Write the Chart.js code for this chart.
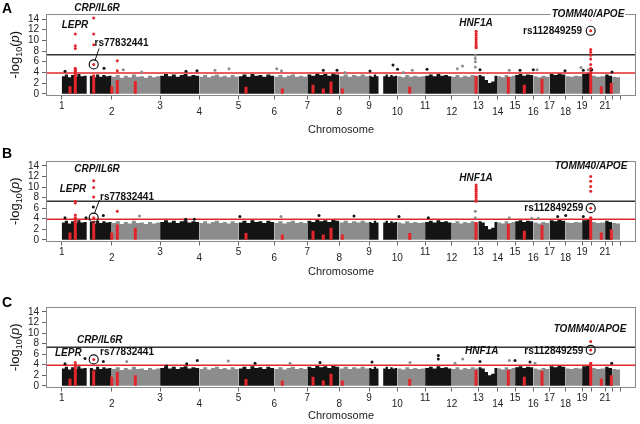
<!DOCTYPE html>
<html><head><meta charset="utf-8">
<script src="https://cdn.jsdelivr.net/npm/chart.js"></script>
<style>
html,body{margin:0;padding:0;background:#fff;width:640px;height:424px;overflow:hidden}
canvas{position:absolute;left:0}
</style></head><body>
<canvas id="pA" style="top:0px" width="640" height="147"></canvas>
<canvas id="pB" style="top:147px" width="640" height="146"></canvas>
<canvas id="pC" style="top:293px" width="640" height="131"></canvas>
<script>
// ---------------- DATA ----------------
// chromosome start positions along the genome axis (approx. Mb, cumulative)
const chromosomes = ['1','2','3','4','5','6','7','8','9','10','11','12','13','14','15','16','17','18','19','20','21','22'];
const chrStart = [0,250,492,688,884,1063,1228,1388,1537,1678,1817,1950,2083,2180,2267,2358,2439,2519,2602,2647,2717,2752];
const genomeEnd = 2792;
const xTickValues = chrStart.concat([genomeEnd]);
const xTickLabels = ['1','2','3','4','5','6','7','8','9','10','11','12','13','14','15','16','17','18','19','','21','',''];
const yTicks = [0,2,4,6,8,10,12,14];
const genomeWideLine = 7.3;
const suggestiveLine = 3.9;

// upper envelope (-log10 p) of the dense cloud of SNPs, sampled evenly along each chromosome
const massTop = [
  [3.3,3.6,3.1,3.5,3.2,3.7,3.3,3.4,0,3.4,3.1,3.6,3.2,3.5,3.3,3.4],
  [3.2,3.5,3.0,3.4,3.1,3.6,3.2,3.3,3.0,3.4,3.1,3.3],
  [3.4,3.7,3.3,3.6,3.2,3.5,3.7,3.3,3.5,3.4],
  [3.2,3.5,3.1,3.4,3.6,3.2,3.4,3.1,3.5,3.2],
  [3.3,3.6,3.2,3.7,3.4,3.5,3.2,3.6,3.4],
  [3.2,3.5,3.1,3.4,3.6,3.2,3.4,3.2],
  [3.6,3.4,3.8,3.5,3.7,3.4,3.8,3.6],
  [3.3,3.6,3.2,3.5,3.3,3.6,3.3],
  [3.4,3.2,3.6,3.3,0,0,3.3,3.6,3.2,3.5,3.3,3.4],
  [3.3,3.1,3.5,3.2,3.4,3.2,3.3],
  [3.4,3.6,3.3,3.7,3.4,3.5,3.3],
  [3.2,3.5,3.1,3.4,3.2,3.5,3.3],
  [3.5,3.3,2.6,2.0,2.3,3.4],
  [3.3,3.1,3.5,3.2,3.4],
  [3.5,3.7,3.4,3.6,3.5],
  [3.3,3.1,3.4,3.2],
  [3.7,3.5,3.8,3.6],
  [3.3,3.2,3.4,3.3],
  [3.7,3.9],
  [3.4,3.2,3.3],
  [3.6,3.4],
  [3.2,3.1]
];

// red (locus) SNP columns inside the cloud: position and top value per panel
const streakPos  = [41.5,68,160,250,278,368,921.5,1103,1256.5,1308,1346.5,1403,1740,2071.5,2233,2313,2401.5,2645,2698,2748];
const streakTopA = [1.4,4.6,3.6,1.4,2.6,2.4,1.3,1.0,1.7,1.0,2.3,1.0,1.3,3.4,3.2,1.7,2.8,4.6,1.4,2.0];
const streakTopB = [1.4,4.4,3.6,1.4,2.9,2.3,1.3,1.0,1.7,1.0,2.3,1.0,1.3,3.4,3.0,1.7,2.8,4.4,1.4,2.0];
const streakTopC = [1.4,4.2,2.9,1.7,2.6,2.0,1.3,1.0,1.7,1.0,2.3,1.0,1.3,3.0,3.0,1.7,2.8,4.5,1.4,2.0];

// individual SNPs above the cloud: [position, -log10 p]
const redA = [[68,11.2],[68,9.0],[68,8.5],[68,4.8],[68,4.4],
  [160,14.2],[160,11.2],[160,9.2],[160,5.5],[278,6.2],[278,4.3],
  [2072,11.7],[2072,11.3],[2072,10.9],[2072,10.5],[2072,10.1],[2072,9.7],[2072,9.3],[2072,8.9],[2072,8.6],
  [2645,14.0],[2645,11.8],[2645,8.3],[2645,7.8],[2645,7.2],[2645,6.5],[2645,5.5],[2645,4.8]];
const blackA = [[16.5,4.2],[211.5,4.8],[621.5,4.2],[676.5,4.3],[1308,4.4],[1376.5,4.4],[1541.5,4.25],[1656.5,5.4],
  [1679,4.6],[1826.5,4.6],[2091.5,4.5],[2291.5,4.4],[2358,4.5],[2516.5,4.3],[2608,4.4],[2650,4.5],[2751.5,4.1]];
const greyA = [[308,4.5],[400,4.1],[766.5,4.4],[836.5,4.7],[1075,4.7],[1099,4.3],[1416.5,4.0],[1708,4.0],[1753,4.4],
  [1978,4.7],[2004,5.2],[2068,7.2],[2068,6.6],[2068,6.0],[2068,5.0],[2238,4.4],[2376.5,4.5],[2596.5,4.9],[2633,4.5]];
const circledA = [[160,5.5],[2645,11.8]];

const redB = [[68,7.3],[68,7.0],[68,4.7],
  [160,11.2],[160,9.9],[160,8.1],[160,4.2],[278,5.4],
  [2072,10.4],[2072,10.0],[2072,9.6],[2072,9.2],[2072,8.8],[2072,8.4],[2072,8.0],[2072,7.6],[2072,7.3],
  [2645,12.0],[2645,11.1],[2645,10.1],[2645,9.2],[2645,6.0]];
const blackB = [[16.5,4.2],[121.5,4.2],[158,6.2],[208,4.6],[620,3.9],[663,3.9],[891,4.4],[1286.5,4.6],[1461.5,4.5],
  [1686.5,4.4],[1833,4.2],[2480,4.4],[2520,4.6],[2608,4.4]];
const greyB = [[389,4.5],[1096.5,4.4],[2068,5.4],[2068,4.2],[2238,4.2],[2350,4.1],[2383,4.1]];
const circledB = [[160,4.2],[2645,6.0]];

const redC = [[68,4.4],[160,5.0],[2645,8.4],[2645,6.8]];
const blackC = [[16.5,4.2],[116.5,5.2],[208,4.6],[525,3.75],[625,4.2],[678,4.8],[966.5,4.3],[1291.5,4.4],[1551.5,4.5],
  [1883,5.75],[1883,5.1],[2091.5,4.6],[2266.5,4.8],[2341.5,4.5],[2750,4.3]];
const greyC = [[325,4.6],[833,4.7],[1141.5,4.3],[1741.5,4.4],[1966.5,4.3],[2005,5.1],[2238,4.8],[2366.5,4.3]];
const circledC = [[160,5.0],[2645,6.8]];

// ---------------- STYLE / LAYOUT ----------------
const FONT = '"Liberation Sans", Arial, Helvetica, sans-serif';
const DARK = '#141414', LIGHT = '#8c8c8c', RED = '#e3262b';
const X_MIN = -78.5, X_MAX = 2871.5, Y_MIN = -0.32, Y_MAX = 14.94;

const panelLayouts = {
  pA: { letter:'A', letterY:8.7, axisH:51.5, titlePad:10.4,
    texts:[{t:'CRP/IL6R',x:97,y:8,k:'gene',a:'center'},{t:'LEPR',x:75,y:25,k:'gene',a:'center'},
           {t:'rs77832441',x:94.5,y:43,k:'rs',a:'left'},{t:'HNF1A',x:476,y:23,k:'gene',a:'center'},
           {t:'TOMM40/APOE',x:588,y:14,k:'gene',a:'center',bg:true},{t:'rs112849259',x:582,y:31,k:'rs',a:'right'}],
    leader:[95,60.5,99,48.5] },
  pB: { letter:'B', letterY:7, axisH:51.5, titlePad:14.4,
    texts:[{t:'CRP/IL6R',x:97,y:22,k:'gene',a:'center'},{t:'LEPR',x:73,y:42,k:'gene',a:'center'},
           {t:'rs77832441',x:100,y:50.3,k:'rs',a:'left'},{t:'HNF1A',x:476,y:31.3,k:'gene',a:'center'},
           {t:'TOMM40/APOE',x:591,y:19.7,k:'gene',a:'center'},{t:'rs112849259',x:583.3,y:61.3,k:'rs',a:'right'}],
    leader:[94.5,66.3,99.5,53] },
  pC: { letter:'C', letterY:10.3, axisH:36.5, titlePad:1.4,
    texts:[{t:'CRP/IL6R',x:99.7,y:47.7,k:'gene',a:'center'},{t:'LEPR',x:68.3,y:60.3,k:'gene',a:'center'},
           {t:'rs77832441',x:100,y:59.7,k:'rs',a:'left'},{t:'HNF1A',x:481.7,y:58.7,k:'gene',a:'center'},
           {t:'TOMM40/APOE',x:590,y:36,k:'gene',a:'center'},{t:'rs112849259',x:583.3,y:58,k:'rs',a:'right'}],
    leader:null }
};

const annotPlugin = {
  id:'annot',
  afterDraw(chart) {
    const L = chart.options.plugins.annot;
    const ctx = chart.ctx, ca = chart.chartArea, xs = chart.scales.x, ys = chart.scales.y;
    ctx.save();
    // plot box
    ctx.strokeStyle = '#8a8a8a'; ctx.lineWidth = 1;
    ctx.strokeRect(Math.round(ca.left)+0.5, Math.round(ca.top)+0.5, Math.round(ca.right-ca.left)-1, Math.round(ca.bottom-ca.top)-1);
    // staggered chromosome tick labels (odd numbers higher, even lower)
    ctx.font = '10px ' + FONT; ctx.fillStyle = '#222'; ctx.textAlign = 'center'; ctx.textBaseline = 'middle';
    xTickValues.forEach((v, i) => {
      const lab = xTickLabels[i];
      if (lab) ctx.fillText(lab, xs.getPixelForValue(v), ca.bottom + (i % 2 === 0 ? 10.5 : 16.5));
    });
    // circles around highlighted SNPs
    ctx.strokeStyle = '#111'; ctx.lineWidth = 1.2;
    for (const [x,y] of L.circled) {
      ctx.beginPath(); ctx.arc(xs.getPixelForValue(x), ys.getPixelForValue(y), 4.5, 0, Math.PI*2); ctx.stroke();
    }
    if (L.leader) {
      ctx.lineWidth = 1; ctx.beginPath(); ctx.moveTo(L.leader[0],L.leader[1]); ctx.lineTo(L.leader[2],L.leader[3]); ctx.stroke();
    }
    // labels
    ctx.textBaseline = 'middle';
    for (const t of L.texts) {
      ctx.font = t.k === 'gene' ? 'italic bold 10px ' + FONT : 'bold 10px ' + FONT;
      ctx.textAlign = t.a;
      if (t.bg) {
        const w = ctx.measureText(t.t).width;
        const x0 = t.a === 'center' ? t.x - w/2 : (t.a === 'right' ? t.x - w : t.x);
        ctx.fillStyle = '#fff'; ctx.fillRect(x0-1, t.y-6, w+2, 12);
      }
      ctx.fillStyle = '#111';
      ctx.fillText(t.t, t.x, t.y);
    }
    // panel letter
    ctx.font = 'bold 14px ' + FONT; ctx.textAlign = 'left'; ctx.fillStyle = '#000';
    ctx.fillText(L.letter, 2, L.letterY);
    // y axis title: -log10(p)
    ctx.translate(14, (ca.top + ca.bottom)/2);
    ctx.rotate(-Math.PI/2);
    ctx.textAlign = 'left'; ctx.textBaseline = 'alphabetic'; ctx.fillStyle = '#111';
    const parts = [['-log','13px '+FONT,0],['10','9px '+FONT,3],['(','13px '+FONT,0],['p','italic 13px '+FONT,0],[')','13px '+FONT,0]];
    let total = 0;
    for (const p of parts) { ctx.font = p[1]; total += ctx.measureText(p[0]).width; }
    let cx = -total/2;
    for (const p of parts) { ctx.font = p[1]; ctx.fillText(p[0], cx, 4.5 + p[2]); cx += ctx.measureText(p[0]).width; }
    ctx.restore();
  }
};

function toPts(arr){ return arr.map(([x,y]) => ({x, y})); }

function massDatasets() {
  return massTop.map((vals, i) => {
    const s = chrStart[i], e = i < chrStart.length-1 ? chrStart[i+1] : genomeEnd;
    const w = (e - s) / vals.length;
    const pts = vals.map((v,k) => ({x: s + k*w, y: v}));
    pts.push({x: e, y: vals[vals.length-1]});
    return {type:'line', data: pts, stepped: true, fill: 'origin', backgroundColor: i % 2 === 0 ? DARK : LIGHT,
            borderWidth: 0, pointRadius: 0, order: 10};
  });
}

function streakDataset(tops) {
  const pts = [];
  streakPos.forEach((x,i) => { pts.push({x, y:0}, {x, y:tops[i]}, {x, y:null}); });
  return {type:'line', data: pts, borderColor: RED, borderWidth: 3, pointRadius: 0, spanGaps: false, order: 5};
}

function hLine(v, color, w) {
  return {type:'line', data:[{x:X_MIN,y:v},{x:X_MAX,y:v}], borderColor: color, borderWidth: w, pointRadius: 0, order: 3};
}

function pointSet(arr, color, order) {
  return {type:'scatter', data: toPts(arr), backgroundColor: color, borderWidth: 0, pointRadius: 1.5, order};
}

function makePanel(id, red, black, grey, tops, circled) {
  const L = Object.assign({circled}, panelLayouts[id]);
  new Chart(document.getElementById(id), {
    type: 'scatter',
    data: { datasets: [
      ...massDatasets(),
      streakDataset(tops),
      hLine(genomeWideLine, '#333', 1.5),
      hLine(suggestiveLine, RED, 1.4),
      pointSet(grey, LIGHT, 2),
      pointSet(black, DARK, 1),
      pointSet(red, RED, 0)
    ]},
    options: {
      responsive: false, animation: false, devicePixelRatio: 1, events: [],
      layout: { padding: { top: 14, right: 4, left: 0, bottom: 0 } },
      plugins: { legend: {display:false}, tooltip: {enabled:false}, annot: L },
      scales: {
        x: { type:'linear', min: X_MIN, max: X_MAX, offset: false,
          afterBuildTicks: s => { s.ticks = xTickValues.map(v => ({value: v})); },
          afterFit: s => { s.height = L.axisH; },
          border: { display: false },
          grid: { drawOnChartArea: false, drawTicks: true, tickLength: 4, color: '#666' },
          ticks: { display: false, autoSkip: false, maxRotation: 0, callback: (v, i) => xTickLabels[i] },
          title: { display: true, text: 'Chromosome', color: '#222', font: { family: FONT, size: 11 }, padding: { top: 0, bottom: L.titlePad } }
        },
        y: { type:'linear', min: Y_MIN, max: Y_MAX,
          afterBuildTicks: s => { s.ticks = yTicks.map(v => ({value: v})); },
          afterFit: s => { s.width = 46; },
          border: { display: false },
          grid: { drawOnChartArea: false, drawTicks: true, tickLength: 4, color: '#666' },
          ticks: { autoSkip: false, padding: 3, color: '#222', font: { family: FONT, size: 10 } }
        }
      }
    },
    plugins: [annotPlugin]
  });
}

makePanel('pA', redA, blackA, greyA, streakTopA, circledA);
makePanel('pB', redB, blackB, greyB, streakTopB, circledB);
makePanel('pC', redC, blackC, greyC, streakTopC, circledC);
</script>
</body></html>
